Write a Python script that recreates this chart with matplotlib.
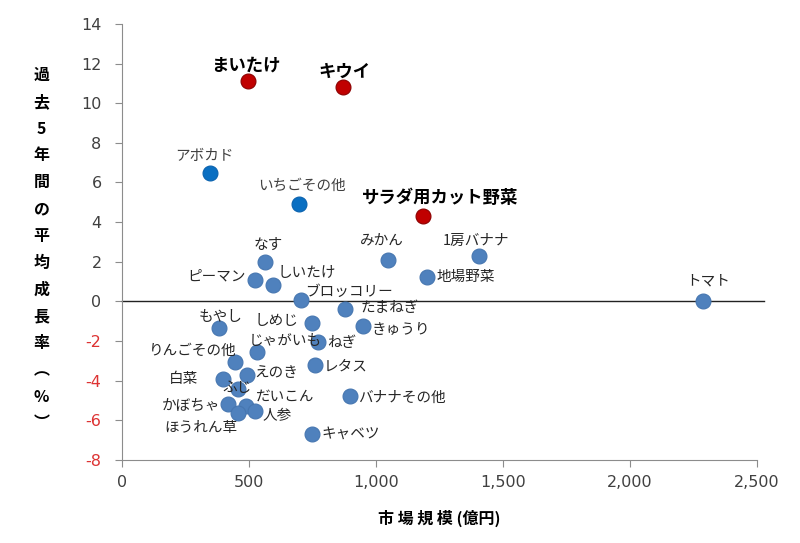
import matplotlib
matplotlib.use('Agg')
import matplotlib.pyplot as plt
from matplotlib.ticker import FuncFormatter

plt.rcParams['font.family'] = ['Noto Sans CJK JP', 'DejaVu Sans']

# data: market size (100M yen) vs average growth over past 5 years (%)
names = ['まいたけ', 'キウイ', 'サラダ用カット野菜', 'アボカド', 'いちごその他',
         'なす', 'ピーマン', 'しいたけ', 'ブロッコリー', 'みかん', '1房バナナ',
         '地場野菜', 'トマト', 'たまねぎ', 'もやし', 'しめじ', 'きゅうり',
         'じゃがいも', 'ねぎ', 'りんごその他', 'レタス', 'えのき', '白菜', 'ふじ',
         'バナナその他', 'かぼちゃ', 'だいこん', '人参', 'ほうれん草', 'キャベツ']
market = [494, 868, 1183, 344, 695,
          561, 522, 592, 703, 1045, 1404,
          1199, 2289, 876, 380, 746, 947,
          530, 770, 443, 758, 490, 396, 455,
          896, 416, 489, 522, 455, 746]
growth = [11.1, 10.8, 4.3, 6.5, 4.9,
          2.0, 1.1, 0.85, 0.05, 2.1, 2.3,
          1.25, 0.0, -0.38, -1.34, -1.1, -1.24,
          -2.55, -2.05, -3.05, -3.2, -3.7, -3.9, -4.4,
          -4.8, -5.2, -5.3, -5.55, -5.65, -6.7]
group = ['red', 'red', 'red', 'bright', 'bright'] + ['blue'] * 25

# label placement: (dx, dy) in pixels, horizontal alignment
label_pos = {
    'まいたけ': (-2, 16, 'center'), 'キウイ': (2, 16, 'center'),
    'サラダ用カット野菜': (18, 18, 'center'), 'アボカド': (-5, 17, 'center'),
    'いちごその他': (3, 18, 'center'), 'なす': (3, 17, 'center'),
    'ピーマン': (-9, 3, 'right'), 'しいたけ': (5, 12, 'left'),
    'ブロッコリー': (4, 8, 'left'), 'みかん': (-6, 18, 'center'),
    '1房バナナ': (-3, 15, 'center'), '地場野菜': (10, 0, 'left'),
    'トマト': (5, 20, 'center'), 'たまねぎ': (16, 1, 'left'),
    'もやし': (2, 11, 'center'), 'しめじ': (-13, 2, 'right'),
    'きゅうり': (9, -4, 'left'), 'じゃがいも': (-8, 11, 'left'),
    'ねぎ': (9, -1, 'left'), 'りんごその他': (2, 11, 'right'),
    'レタス': (9, -2, 'left'), 'えのき': (8, 2, 'left'),
    '白菜': (-25, 0, 'right'), 'ふじ': (-1, 1, 'center'),
    'バナナその他': (8, -1, 'left'), 'かぼちゃ': (-8, -2, 'right'),
    'だいこん': (9, 10, 'left'), '人参': (8, -5, 'left'),
    'ほうれん草': (0, -15, 'right'), 'キャベツ': (10, 0, 'left'),
}
bold_names = {'まいたけ', 'キウイ', 'サラダ用カット野菜'}
gray_names = {'アボカド', 'いちごその他'}

colors = {'red': ('#C00000', '#8B0000'),
          'bright': ('#0A6FC2', '#0A62AE'),
          'blue': ('#4F81BD', '#4676B0')}

fig = plt.figure(figsize=(8.0, 5.43), dpi=100)
ax = fig.add_axes([0.153, 0.153, 0.793, 0.803])

for g, (fc, ec) in colors.items():
    xs = [m for m, k in zip(market, group) if k == g]
    ys = [v for v, k in zip(growth, group) if k == g]
    ax.scatter(xs, ys, s=115, color=fc, edgecolors=ec, linewidths=0.8, zorder=3)

for n, x, y in zip(names, market, growth):
    dx, dy, ha = label_pos[n]
    bold = n in bold_names
    col = '#000000' if bold else ('#404040' if n in gray_names else '#262626')
    ax.annotate(n, (x, y), xytext=(dx * 0.72, dy * 0.72), textcoords='offset points',
                ha=ha, va='center', fontsize=12.5 if bold else 10.5,
                fontweight='bold' if bold else 'normal', color=col, zorder=4)

ax.axhline(0, xmin=0, xmax=1.012, color='#222222', linewidth=1.0, clip_on=False, zorder=2)

ax.set_xlim(0, 2500)
ax.set_ylim(-8, 14)
ax.set_xticks(range(0, 2501, 500))
ax.set_yticks(range(-8, 15, 2))
ax.xaxis.set_major_formatter(FuncFormatter(lambda v, p: f'{int(v):,}'))
ax.yaxis.set_major_formatter(FuncFormatter(lambda v, p: f'{int(v)}'))

for s in ['top', 'right']:
    ax.spines[s].set_visible(False)
for s in ['left', 'bottom']:
    ax.spines[s].set_color('#8C8C8C')
ax.tick_params(direction='out', length=5, color='#8C8C8C', labelsize=11.5,
               labelcolor='#404040', pad=6)
ax.tick_params(axis='y', pad=10)
fig.canvas.draw()
for lbl in ax.get_yticklabels():
    lbl.set_fontfamily('DejaVu Sans')
    if lbl.get_text().startswith('-'):
        lbl.set_color('#DD3333')
for lbl in ax.get_xticklabels():
    lbl.set_fontfamily('DejaVu Sans')

ax.set_xlabel('市 場 規 模 (億円)', fontsize=11.5, fontweight='bold', labelpad=14)

ylabel = ['過', '去', '5', '年', '間', 'の', '平', '均', '成', '長', '率', '︵', '%', '︶']
for i, ch in enumerate(ylabel):
    fig.text(0.052, 1 - (75 + i * 26.8) / 543, ch, ha='center', va='center',
             fontsize=11.5, fontweight='bold')

fig.savefig('out.png', dpi=100)
